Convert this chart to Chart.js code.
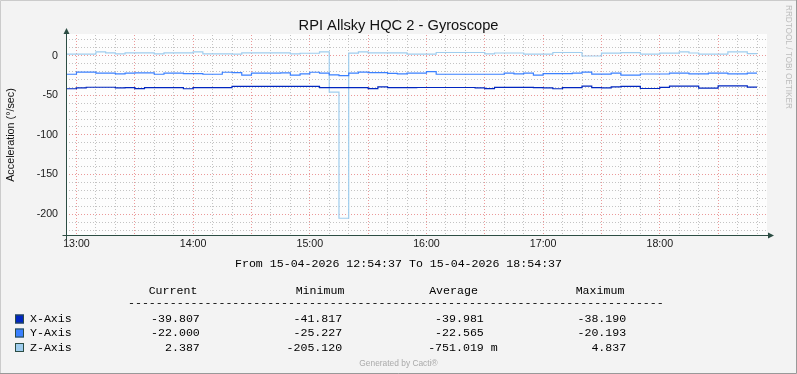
<!DOCTYPE html>
<html>
<head>
<meta charset="utf-8">
<title>RPI Allsky HQC 2 - Gyroscope</title>
<script src="https://cdn.jsdelivr.net/npm/chart.js@4.4.1/dist/chart.umd.min.js"></script>
<style>
  html, body { margin: 0; padding: 0; background: #f3f3f3; }
  canvas { display: block; }
</style>
</head>
<body>
<canvas id="gyro" width="797" height="374"></canvas>
<script>
// time is kept in minutes after 12:00
const windowStart = 54 + 37 / 60;   // 12:54:37
const windowEnd = 414 + 37 / 60;    // 18:54:37
const firstSampleEnd = 60;          // 13:00, every value covers the 5 min before its time
const sampleStep = 5;

const seriesNames = ['X-Axis', 'Y-Axis', 'Z-Axis'];
const seriesColors = ['#0026c0', '#3a80ff', '#9fcdee'];

const xAxisValues = [
  -41.8, -40.6, -39.9, -39.9, -39.9, -40.7, -40.3, -41.6, -40.3, -40.3,
  -40.3, -40.3, -41.8, -40.3, -40.3, -40.3, -40.3, -38.8, -38.8, -38.8,
  -38.8, -38.8, -38.8, -38.8, -38.8, -38.8, -40.3, -40.3, -40.3, -40.3,
  -40.3, -41.6, -39.3, -40.3, -40.3, -40.3, -40.2, -40.2, -40.2, -40.2,
  -40.2, -40.2, -40.8, -41.7, -40.0, -40.0, -40.0, -40.0, -40.3, -40.8,
  -41.8, -40.3, -40.3, -38.5, -40.3, -40.8, -39.5, -38.8, -38.8, -41.5,
  -41.5, -40.0, -38.5, -38.5, -38.5, -41.0, -41.0, -38.2, -38.2, -38.2,
  -39.8
];
const yAxisValues = [
  -23.5, -20.8, -20.8, -22.2, -22.2, -23.0, -22.2, -21.8, -21.8, -23.5,
  -22.2, -22.2, -22.7, -22.7, -23.5, -23.5, -21.0, -21.5, -24.7, -22.2,
  -22.2, -22.2, -21.8, -24.5, -23.0, -21.0, -22.2, -24.3, -25.2, -22.2,
  -20.8, -21.5, -21.5, -22.5, -23.0, -22.2, -22.2, -20.2, -23.5, -23.5,
  -23.5, -23.5, -23.5, -23.5, -23.5, -22.2, -23.0, -22.2, -24.5, -22.8,
  -22.8, -22.8, -22.2, -20.8, -23.3, -23.3, -22.0, -24.5, -24.5, -23.2,
  -23.2, -23.2, -22.2, -22.2, -23.0, -23.0, -22.2, -22.2, -23.0, -23.0,
  -22.0
];
const zAxisValues = [
  2.0, 2.0, 2.0, 4.7, 3.4, 2.1, 3.4, 3.4, 3.4, 2.1,
  3.4, 3.4, 3.4, 4.6, 2.1, 2.1, 2.1, 1.9, 3.4, 3.4,
  3.4, 3.4, 3.4, 2.1, 3.0, 3.0, 4.6, -46.0, -205.1, 3.2,
  4.6, 3.4, 3.4, 3.4, 3.4, 2.0, 2.0, 2.0, 3.9, 3.9,
  3.9, 3.9, 3.9, 2.1, 3.3, 3.3, 3.3, 2.0, 2.0, 2.0,
  3.9, 3.9, 3.9, -0.5, -0.5, 3.2, 3.2, 3.8, 3.8, 1.9,
  1.9, 3.2, 3.2, 4.8, 3.3, 1.9, 1.9, 1.9, 4.8, 4.8,
  2.4
];

const yMin = -227.5;
const yMax = 26;
const yGridStep = 10;
const yLabelStep = 50;
const xGridStep = 10;
const xMajorStep = 30;
const xLabelStep = 60;
const hourLabels = ['13:00', '14:00', '15:00', '16:00', '17:00', '18:00'];

const periodText = 'From 15-04-2026 12:54:37 To 15-04-2026 18:54:37';
const statHeaders = ['Current', 'Minimum', 'Average', 'Maximum'];
const statRows = [
  ['-39.807', '-41.817', '-39.981', '-38.190'],
  ['-22.000', '-25.227', '-22.565', '-20.193'],
  ['2.387', '-205.120', '-751.019 m', '4.837']
];

const axisColor = '#2c4d43';
const minorGrid = 'rgba(185, 185, 185, 0.85)';
const majorGrid = 'rgba(232, 135, 135, 0.85)';

function toPoints(values) {
  // leading point so the first 5 min step is drawn from its own start
  const pts = [{ x: firstSampleEnd - sampleStep, y: values[0] }];
  values.forEach((v, i) => pts.push({ x: firstSampleEnd + i * sampleStep, y: v }));
  return pts;
}

function gridValues(from, to, step) {
  const out = [];
  for (let v = Math.ceil(from / step) * step; v <= to; v += step) out.push({ value: v });
  return out;
}

const rrdFrame = {
  id: 'rrdFrame',
  beforeDraw(chart) {
    const { ctx, chartArea: a, width, height } = chart;
    ctx.save();
    ctx.fillStyle = '#f3f3f3';
    ctx.fillRect(0, 0, width, height);
    ctx.fillStyle = '#fdfdfd';
    ctx.fillRect(a.left, a.top - 1, a.right - a.left + 1, a.bottom - a.top + 1);
    // shaded border
    ctx.strokeStyle = '#cbcbcb';
    ctx.beginPath();
    ctx.moveTo(0.5, height); ctx.lineTo(0.5, 0.5); ctx.lineTo(width, 0.5);
    ctx.stroke();
    ctx.strokeStyle = '#999999';
    ctx.beginPath();
    ctx.moveTo(width - 0.5, 0); ctx.lineTo(width - 0.5, height - 0.5); ctx.lineTo(0, height - 0.5);
    ctx.stroke();
    ctx.restore();
  },
  afterDraw(chart) {
    const { ctx, chartArea: a, width } = chart;
    ctx.save();

    // axes with arrows
    const ax = Math.round(a.left) + 0.5;
    const ay = Math.round(a.bottom) - 0.5;
    ctx.strokeStyle = axisColor;
    ctx.fillStyle = axisColor;
    ctx.lineWidth = 1;
    ctx.beginPath();
    ctx.moveTo(ax, ay + 4); ctx.lineTo(ax, a.top - 2);
    ctx.moveTo(ax - 4, ay); ctx.lineTo(a.right + 3, ay);
    ctx.stroke();
    ctx.beginPath();
    ctx.moveTo(ax, a.top - 7); ctx.lineTo(ax - 3, a.top - 1); ctx.lineTo(ax + 3, a.top - 1);
    ctx.closePath(); ctx.fill();
    ctx.beginPath();
    ctx.moveTo(a.right + 8, ay); ctx.lineTo(a.right + 2, ay - 3); ctx.lineTo(a.right + 2, ay + 3);
    ctx.closePath(); ctx.fill();

    // title
    ctx.fillStyle = '#111';
    ctx.textAlign = 'center';
    ctx.textBaseline = 'alphabetic';
    ctx.font = '14.7px "Liberation Sans", Arial, sans-serif';
    ctx.fillText('RPI Allsky HQC 2 - Gyroscope', width / 2, 29.5);

    // vertical unit label
    ctx.save();
    ctx.translate(11.5, 135);
    ctx.rotate(-Math.PI / 2);
    ctx.textBaseline = 'middle';
    ctx.font = '10.8px "Liberation Sans", Arial, sans-serif';
    ctx.fillText('Acceleration (°/sec)', 0, 0);
    ctx.restore();

    // watermark on the right
    ctx.save();
    ctx.translate(788.5, 5);
    ctx.rotate(Math.PI / 2);
    ctx.textAlign = 'left';
    ctx.textBaseline = 'middle';
    ctx.fillStyle = '#bdbdbd';
    ctx.font = '8.2px "Liberation Sans", Arial, sans-serif';
    ctx.fillText('RRDTOOL / TOBI OETIKER', 0, 0);
    ctx.restore();

    // legend block
    ctx.fillStyle = '#000';
    ctx.textBaseline = 'middle';
    ctx.font = '11.6px "Liberation Mono", "Courier New", monospace';
    ctx.textAlign = 'center';
    ctx.fillText(periodText, width / 2, 263.5);

    const headerCenters = [173, 320, 453.5, 600];
    statHeaders.forEach((h, i) => ctx.fillText(h, headerCenters[i], 290.5));

    ctx.textAlign = 'left';
    ctx.fillText('-'.repeat(77), 128, 302.5);

    const rowY = [319, 333, 347.5];
    const colRight = [199.8, 342.2, 483.8, 626.2];
    seriesNames.forEach((name, r) => {
      ctx.fillStyle = seriesColors[r];
      ctx.fillRect(15, rowY[r] - 4.5, 9, 9);
      ctx.strokeStyle = axisColor;
      ctx.strokeRect(15.5, rowY[r] - 4, 8, 8);
      ctx.fillStyle = '#000';
      ctx.textAlign = 'left';
      ctx.fillText(name, 30, rowY[r]);
      statRows[r].forEach((txt, c) => {
        const num = txt.split(' ')[0];
        ctx.textAlign = 'left';
        ctx.fillText(txt, colRight[c] - ctx.measureText(num).width, rowY[r]);
      });
    });

    ctx.textAlign = 'center';
    ctx.fillStyle = '#aaaaaa';
    ctx.font = '8.4px "Liberation Sans", Arial, sans-serif';
    ctx.fillText('Generated by Cacti®', width / 2, 363.5);

    ctx.restore();
  }
};

const datasets = [xAxisValues, yAxisValues, zAxisValues].map((vals, i) => ({
  label: seriesNames[i],
  data: toPoints(vals),
  borderColor: seriesColors[i],
  borderWidth: 1.2,
  pointRadius: 0,
  stepped: 'after',
  fill: false
}));

Chart.defaults.font.family = '"Liberation Sans", Arial, sans-serif';
Chart.defaults.color = '#1a1a1a';

new Chart(document.getElementById('gyro'), {
  type: 'line',
  data: { datasets },
  options: {
    responsive: false,
    animation: false,
    devicePixelRatio: 1,
    layout: { padding: { left: 0, right: 31, top: 35, bottom: 118 } },
    plugins: {
      legend: { display: false },
      tooltip: { enabled: false },
      title: { display: false }
    },
    scales: {
      x: {
        type: 'linear',
        min: windowStart,
        max: windowEnd,
        afterBuildTicks: s => { s.ticks = gridValues(windowStart, windowEnd, xGridStep); },
        afterFit: s => { s.height = 20; },
        ticks: {
          autoSkip: false,
          maxRotation: 0,
          padding: 2,
          font: { size: 10.67 },
          callback: v => (v % xLabelStep === 0 ? hourLabels[v / xLabelStep - 1] : '')
        },
        grid: {
          drawTicks: false,
          color: c => (c.tick && c.tick.value % xMajorStep === 0 ? majorGrid : minorGrid),
          lineWidth: 1
        },
        border: { display: false, dash: [1, 2] }
      },
      y: {
        type: 'linear',
        min: yMin,
        max: yMax,
        afterBuildTicks: s => { s.ticks = gridValues(yMin, yMax, yGridStep); },
        afterFit: s => { s.width = 66; },
        ticks: {
          autoSkip: false,
          padding: 8,
          font: { size: 10.67 },
          callback: v => (v % yLabelStep === 0 ? String(v) : '')
        },
        grid: {
          drawTicks: false,
          color: c => (c.tick && c.tick.value % yLabelStep === 0 ? majorGrid : minorGrid),
          lineWidth: 1
        },
        border: { display: false, dash: [1, 2] }
      }
    }
  },
  plugins: [rrdFrame]
});
</script>
</body>
</html>
